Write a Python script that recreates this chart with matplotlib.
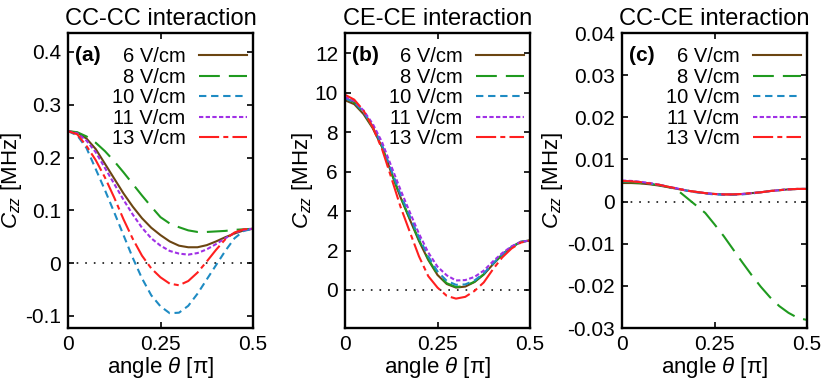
import matplotlib
matplotlib.use("Agg")
import matplotlib.pyplot as plt

plt.rcParams['font.family'] = ['Liberation Sans', 'DejaVu Sans']
plt.rcParams['mathtext.fontset'] = 'custom'
plt.rcParams['mathtext.rm'] = 'Liberation Sans'
plt.rcParams['mathtext.it'] = 'Liberation Sans:italic'
plt.rcParams['axes.unicode_minus'] = False
plt.rcParams['lines.scale_dashes'] = False

# ---------------- data ----------------
theta = [0.0, 0.025, 0.05, 0.075, 0.1, 0.125, 0.15, 0.175, 0.2, 0.225, 0.25,
         0.275, 0.3, 0.325, 0.35, 0.375, 0.4, 0.425, 0.45, 0.475, 0.5]

field_labels = ['6 V/cm', '8 V/cm', '10 V/cm', '11 V/cm', '13 V/cm']

# (a) CC-CC interaction [MHz]
a_6 = [0.250, 0.247, 0.236, 0.216, 0.188, 0.160, 0.132, 0.107, 0.085, 0.067, 0.053,
       0.041, 0.033, 0.030, 0.030, 0.034, 0.041, 0.049, 0.056, 0.062, 0.065]
a_8 = [0.250, 0.248, 0.240, 0.228, 0.212, 0.193, 0.172, 0.150, 0.128, 0.107, 0.087,
       0.075, 0.068, 0.062, 0.059, 0.059, 0.060, 0.061, 0.063, 0.064, 0.065]
a_10 = [0.250, 0.242, 0.218, 0.178, 0.138, 0.096, 0.053, 0.010, -0.029, -0.061, -0.082,
        -0.095, -0.094, -0.081, -0.058, -0.031, -0.004, 0.023, 0.047, 0.061, 0.065]
a_11 = [0.250, 0.246, 0.232, 0.210, 0.180, 0.150, 0.120, 0.092, 0.067, 0.047, 0.033,
        0.023, 0.018, 0.016, 0.019, 0.026, 0.036, 0.047, 0.057, 0.063, 0.065]
a_13 = [0.250, 0.244, 0.222, 0.195, 0.162, 0.124, 0.083, 0.046, 0.014, -0.010, -0.027,
        -0.039, -0.042, -0.034, -0.018, 0.003, 0.025, 0.045, 0.058, 0.064, 0.065]

# (b) CE-CE interaction [MHz]
b_6 = [9.62, 9.42, 8.92, 8.20, 7.25, 5.95, 4.70, 3.58, 2.48, 1.52, 0.76,
       0.30, 0.12, 0.17, 0.40, 0.78, 1.30, 1.79, 2.17, 2.43, 2.51]
b_8 = [9.74, 9.52, 8.98, 8.25, 7.28, 5.96, 4.72, 3.62, 2.53, 1.57, 0.80,
       0.34, 0.15, 0.20, 0.42, 0.80, 1.33, 1.80, 2.18, 2.44, 2.51]
b_10 = [9.72, 9.52, 9.02, 8.30, 7.35, 6.08, 4.85, 3.75, 2.66, 1.70, 0.94,
        0.46, 0.26, 0.28, 0.48, 0.84, 1.34, 1.80, 2.18, 2.44, 2.51]
b_11 = [9.78, 9.58, 9.10, 8.42, 7.50, 6.28, 5.08, 3.95, 2.85, 1.90, 1.18,
        0.74, 0.48, 0.50, 0.66, 0.98, 1.45, 1.87, 2.21, 2.44, 2.51]
b_13 = [9.90, 9.65, 9.10, 8.25, 7.15, 5.70, 4.22, 2.95, 1.70, 0.70, 0.12,
        -0.30, -0.44, -0.35, -0.05, 0.38, 1.05, 1.65, 2.10, 2.40, 2.51]

# (c) CC-CE interaction [MHz]
c_6 = [0.0044, 0.0044, 0.0043, 0.0041, 0.0038, 0.0034, 0.0030, 0.0026, 0.0023, 0.0020, 0.0018,
       0.0017, 0.0017, 0.0018, 0.0020, 0.0022, 0.0025, 0.0027, 0.0029, 0.0030, 0.0030]
c_8 = [0.0047, 0.0046, 0.0044, 0.0042, 0.0039, 0.0035, 0.0027, 0.0009, -0.0009, -0.0027, -0.0054,
       -0.0082, -0.0113, -0.0144, -0.0174, -0.0202, -0.0227, -0.0248, -0.0264, -0.0276, -0.0281]
c_10 = [0.0048, 0.0048, 0.0046, 0.0043, 0.0040, 0.0035, 0.0031, 0.0026, 0.0022, 0.0019, 0.0017,
        0.0016, 0.0016, 0.0017, 0.0019, 0.0022, 0.0025, 0.0027, 0.0029, 0.0030, 0.0030]
c_11 = [0.0050, 0.0049, 0.0047, 0.0044, 0.0040, 0.0035, 0.0031, 0.0026, 0.0023, 0.0020, 0.0018,
        0.0017, 0.0017, 0.0018, 0.0020, 0.0022, 0.0025, 0.0027, 0.0029, 0.0030, 0.0030]
c_13 = [0.0049, 0.0048, 0.0046, 0.0043, 0.0040, 0.0035, 0.0031, 0.0026, 0.0023, 0.0020, 0.0018,
        0.0017, 0.0017, 0.0018, 0.0020, 0.0022, 0.0025, 0.0027, 0.0029, 0.0030, 0.0030]

titles = ['CC-CC interaction', 'CE-CE interaction', 'CC-CE interaction']
panel_tags = ['(a)', '(b)', '(c)']

x_ticks = [0, 0.25, 0.5]
x_ticklabels = ['0', '0.25', '0.5']

a_yticks = [-0.1, 0, 0.1, 0.2, 0.3, 0.4]
a_yticklabels = ['-0.1', '0', '0.1', '0.2', '0.3', '0.4']
b_yticks = [0, 2, 4, 6, 8, 10, 12]
b_yticklabels = ['0', '2', '4', '6', '8', '10', '12']
c_yticks = [-0.03, -0.02, -0.01, 0, 0.01, 0.02, 0.03, 0.04]
c_yticklabels = ['-0.03', '-0.02', '-0.01', '0', '0.01', '0.02', '0.03', '0.04']

# ---------------- styles ----------------
colors = ['#6b4512', '#1f9a1f', '#1e8bc3', '#a030e6', '#ff1f1f']
dashes = ['-', (0, (15, 6.5)), (0, (5.3, 3.4)), (0, (3.1, 1.7)), (0, (14.5, 3, 3.6, 3))]

panels = [
    dict(series=[a_6, a_8, a_10, a_11, a_13], ylim=(-0.123, 0.436),
         yticks=a_yticks, yticklabels=a_yticklabels, left=68, ylab_x=-0.24),
    dict(series=[b_6, b_8, b_10, b_11, b_13], ylim=(-1.93, 13.03),
         yticks=b_yticks, yticklabels=b_yticklabels, left=345, ylab_x=-0.162),
    dict(series=[c_6, c_8, c_10, c_11, c_13], ylim=(-0.03, 0.04),
         yticks=c_yticks, yticklabels=c_yticklabels, left=622, ylab_x=-0.308),
]

W, H = 830, 383
fig = plt.figure(figsize=(W / 100, H / 100), dpi=100)

for i, p in enumerate(panels):
    ax = fig.add_axes([p['left'] / W, (H - 328) / H, 185 / W, 295 / H])
    ax.axhline(0, color='black', lw=1.1, ls=(0, (1.2, 5)), zorder=1)
    for vals, lab, col, ls in zip(p['series'], field_labels, colors, dashes):
        ax.plot(theta, vals, color=col, lw=1.5, ls=ls, label=lab, zorder=2)
    ax.set_xlim(0, 0.5)
    ax.set_ylim(*p['ylim'])
    ax.set_xticks(x_ticks)
    ax.set_xticklabels(x_ticklabels)
    ax.set_yticks(p['yticks'])
    ax.set_yticklabels(p['yticklabels'])
    ax.tick_params(direction='in', top=True, right=True, length=4.5, width=1.2,
                   labelsize=15, pad=5)
    for s in ax.spines.values():
        s.set_linewidth(1.7)
    ax.set_title(titles[i], fontsize=17, pad=6)
    ax.set_xlabel(r'angle $\theta$ [π]', fontsize=16, labelpad=1)
    ax.set_ylabel(r'$C_{zz}$ [MHz]', fontsize=16)
    ax.yaxis.set_label_coords(p['ylab_x'], 0.5)
    ax.text(0.04, 0.925, panel_tags[i], transform=ax.transAxes, fontsize=15,
            fontweight='bold', va='center', ha='left')
    leg = ax.legend(loc='upper right', bbox_to_anchor=(1 - 6 / 185, 1 - 14 / 295),
                    frameon=False, markerfirst=False, fontsize=14.5,
                    handlelength=2.4, handletextpad=0.65, labelspacing=0.08,
                    borderaxespad=0, borderpad=0)

fig.savefig('out.png', dpi=100)
